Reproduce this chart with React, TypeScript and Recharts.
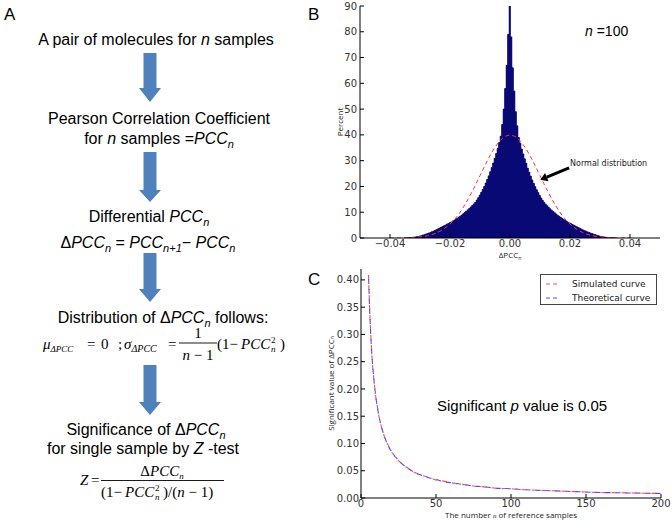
import React from 'react';
import {
  ComposedChart,
  LineChart,
  Bar,
  Line,
  XAxis,
  YAxis,
  Legend,
  ReferenceLine,
} from 'recharts';

// ---- panel B: histogram of delta PCC (n = 100) ----
const BIN_START = -0.035;
const BIN_WIDTH = 0.0005;
const histPercent = [
  0.03, 0.05, 0.08, 0.12, 0.16, 0.22, 0.3, 0.4, 0.5, 0.6,
  0.75, 0.9, 1.1, 1.3, 1.5, 1.7, 1.9, 2.1, 2.4, 2.6,
  2.9, 3.2, 3.5, 3.8, 4.1, 4.4, 4.7, 5.0, 5.3, 5.6,
  5.9, 6.2, 6.6, 6.9, 7.3, 7.7, 8.1, 8.5, 8.9, 9.4,
  9.9, 10.4, 10.9, 11.4, 12.0, 12.6, 13.2, 13.8, 14.7, 15.6,
  16.6, 17.7, 18.8, 20.0, 21.3, 22.7, 24.1, 25.7, 27.3, 29.1,
  30.9, 32.8, 34.8, 37.0, 39.5, 44, 50, 58, 67, 79,
  100,
  78, 66, 57, 49, 43.5, 39, 36.8, 34.5, 32.6, 30.7,
  29.0, 27.1, 25.5, 24.0, 22.5, 21.2, 19.9, 18.7, 17.6, 16.5,
  15.5, 14.6, 13.8, 13.1, 12.5, 11.9, 11.3, 10.8, 10.3, 9.8,
  9.3, 8.8, 8.4, 8.0, 7.6, 7.2, 6.8, 6.5, 6.1, 5.8,
  5.5, 5.2, 4.9, 4.6, 4.3, 4.0, 3.7, 3.4, 3.1, 2.85,
  2.6, 2.35, 2.1, 1.9, 1.7, 1.5, 1.3, 1.1, 0.9, 0.75,
  0.6, 0.5, 0.4, 0.3, 0.22, 0.16, 0.12, 0.08, 0.05, 0.03,
];

const normalX = [
  -0.04, -0.0375, -0.035, -0.0325, -0.03, -0.0275, -0.025, -0.0225, -0.02,
  -0.0175, -0.015, -0.0125, -0.01, -0.0075, -0.005, -0.0025, 0,
  0.0025, 0.005, 0.0075, 0.01, 0.0125, 0.015, 0.0175, 0.02,
  0.0225, 0.025, 0.0275, 0.03, 0.0325, 0.035, 0.0375, 0.04,
];
const normalPercent = [
  0.01, 0.04, 0.09, 0.2, 0.44, 0.9, 1.75, 3.2, 5.4,
  8.6, 13.0, 18.3, 24.2, 30.1, 35.2, 38.7, 39.9,
  38.7, 35.2, 30.1, 24.2, 18.3, 13.0, 8.6, 5.4,
  3.2, 1.75, 0.9, 0.44, 0.2, 0.09, 0.04, 0.01,
];

const histTicksX = [-0.04, -0.02, 0, 0.02, 0.04];
const histTicksY = [0, 10, 20, 30, 40, 50, 60, 70, 80, 90];

// ---- panel C: significant value vs number of reference samples ----
const sampleN = [
  5, 6, 7, 8, 9, 10, 11, 12, 13, 14, 15, 16, 17, 18, 19, 20, 22, 24, 26, 28, 30,
  35, 40, 45, 50, 55, 60, 65, 70, 75, 80, 90, 100, 110, 120, 130, 140, 150,
  160, 170, 180, 190, 200,
];
const simulatedValue = [
  0.409, 0.331, 0.275, 0.234, 0.207, 0.182, 0.166, 0.149, 0.138, 0.126, 0.118,
  0.109, 0.103, 0.097, 0.092, 0.086, 0.079, 0.071, 0.066, 0.061, 0.057,
  0.048, 0.042, 0.038, 0.033, 0.031, 0.028, 0.026, 0.024, 0.022, 0.021,
  0.018, 0.017, 0.015, 0.014, 0.013, 0.012, 0.011, 0.010, 0.0097, 0.0092,
  0.0087, 0.0083,
];
const theoreticalValue = [
  0.411, 0.329, 0.274, 0.235, 0.206, 0.183, 0.165, 0.150, 0.137, 0.127, 0.118,
  0.110, 0.103, 0.097, 0.091, 0.087, 0.078, 0.072, 0.066, 0.061, 0.057,
  0.048, 0.042, 0.037, 0.034, 0.030, 0.028, 0.026, 0.024, 0.022, 0.021,
  0.018, 0.017, 0.015, 0.014, 0.013, 0.012, 0.011, 0.010, 0.0097, 0.0092,
  0.0087, 0.0083,
];
const curveTicksX = [0, 50, 100, 150, 200];
const curveTicksY = [0, 0.05, 0.1, 0.15, 0.2, 0.25, 0.3, 0.35, 0.4];

const histData = histPercent.map((pct, i) => ({ x: BIN_START + i * BIN_WIDTH, pct }));
const normalData = normalX.map((x, i) => ({ x, normal: normalPercent[i] }));
const curveData = sampleN.map((n, i) => ({
  n,
  simulated: simulatedValue[i],
  theoretical: theoreticalValue[i],
}));

const TICK_FONT = { fontSize: 10, fontFamily: 'DejaVu Sans', fill: '#333' };
const SANS = 'Liberation Sans, Arial, sans-serif';
const SERIF = 'Liberation Serif, Times New Roman, serif';
const ARROW_BLUE = '#4F81BD';

const fmtHist = (v: number) => (v < 0 ? '\u2212' : '') + Math.abs(v).toFixed(2);
const fmtCurve = (v: number) => v.toFixed(2);
const blank = () => '';

const PercentTitle = ({ viewBox }: any) => {
  const cx = viewBox.x + 9;
  const cy = viewBox.y + viewBox.height / 2;
  return (
    <text x={cx} y={cy} transform={`rotate(-90 ${cx} ${cy})`} textAnchor="middle"
      dominantBaseline="central" fontSize={8} fontFamily="Open Sans" fill="#222">
      Percent
    </text>
  );
};

const DeltaTitle = ({ viewBox }: any) => (
  <text x={viewBox.x + viewBox.width / 2} y={viewBox.y + 20} textAnchor="middle"
    fontSize={8} fontFamily="Open Sans" fill="#222">
    ΔPCC<tspan fontSize={5} dy={1.5}>n</tspan>
  </text>
);

const SigTitle = ({ viewBox }: any) => {
  const cx = viewBox.x + 10;
  const cy = viewBox.y + viewBox.height / 2;
  return (
    <text x={cx} y={cy} transform={`rotate(-90 ${cx} ${cy})`} textAnchor="middle"
      dominantBaseline="central" fontSize={8} fontFamily="Open Sans" fill="#222">
      Significant value of ΔPCC<tspan fontSize={5} dy={2}>n</tspan>
    </text>
  );
};

const SamplesTitle = ({ viewBox }: any) => (
  <text x={viewBox.x + viewBox.width / 2} y={viewBox.y + 20} textAnchor="middle"
    fontSize={8} fontFamily="Open Sans" fill="#222">
    The number <tspan fontFamily={SERIF} fontStyle="italic" fontSize={7}>n</tspan> of reference samples
  </text>
);

const ArrowNote = (props: any) => {
  const { x1, y1, x2, y2 } = props;
  const dx = x2 - x1;
  const dy = y2 - y1;
  const len = Math.hypot(dx, dy) || 1;
  const ux = dx / len;
  const uy = dy / len;
  const head = 7;
  const half = 4.5;
  const bx = x2 - ux * head;
  const by = y2 - uy * head;
  return (
    <g>
      <line x1={x1} y1={y1} x2={bx} y2={by} stroke="#000" strokeWidth={3} />
      <polygon
        points={`${x2},${y2} ${bx - uy * half},${by + ux * half} ${bx + uy * half},${by - ux * half}`}
        fill="#000"
      />
      <text x={x1 + 1} y={y1 - 1.5} fontSize={8} fontFamily="DejaVu Sans" fill="#222">
        Normal distribution
      </text>
    </g>
  );
};

const CurveLegend = ({ payload }: any) => (
  <div style={{
    width: 117, height: 31, border: '1px solid #444', background: '#fff',
    boxSizing: 'border-box', position: 'relative',
  }}>
    {(payload || []).map((item: any, i: number) => (
      <div key={item.value} style={{
        position: 'absolute', left: 4, top: 2 + i * 14, height: 14,
        display: 'flex', alignItems: 'center', whiteSpace: 'nowrap',
      }}>
        <svg width={16} height={6}>
          <line x1={1} y1={3} x2={15} y2={3} stroke={item.color} strokeWidth={1} strokeDasharray="4 3" />
        </svg>
        <span style={{ marginLeft: 11, fontSize: 9, fontFamily: 'DejaVu Sans', color: '#222', lineHeight: '14px' }}>
          {item.value}
        </span>
      </div>
    ))}
  </div>
);

const arrowPath = (top: number, base: number, tip: number) =>
  `143.5,${top} 156.5,${top} 156.5,${base} 161,${base} 150,${tip} 139,${base} 143.5,${base}`;

const FLOW_ARROWS = [
  [53, 88, 102],
  [152, 190, 202],
  [253, 289, 302],
  [365, 402, 415],
];

const Sub = ({ children, up = 4 }: { children: React.ReactNode; up?: number }) => (
  <tspan fontSize={11} dy={up} fontStyle="italic">{children}</tspan>
);

const FlowPanel = () => (
  <svg width={672} height={522} style={{ position: 'absolute', left: 0, top: 0, pointerEvents: 'none' }}>
    <g fontFamily={SANS} fill="#000">
      <text x={4} y={20} fontSize={17}>A</text>
      <text x={308} y={20} fontSize={17}>B</text>
      <text x={308} y={285} fontSize={17}>C</text>
    </g>

    {FLOW_ARROWS.map(([t, b, p]) => (
      <polygon key={t} points={arrowPath(t, b, p)} fill={ARROW_BLUE} />
    ))}

    <g fontFamily={SANS} fontSize={16} fill="#000" textAnchor="middle">
      <text x={156} y={45}>
        A pair of molecules for <tspan fontStyle="italic">n</tspan> samples
      </text>
      <text x={159} y={124}>Pearson Correlation Coefficient</text>
      <text x={159} y={144}>
        for <tspan fontStyle="italic">n</tspan> samples =<tspan fontStyle="italic">PCC</tspan>
        <Sub>n</Sub>
      </text>
      <text x={149} y={222}>
        Differential <tspan fontStyle="italic">PCC</tspan>
        <Sub>n</Sub>
      </text>
      <text x={148} y={248}>
        Δ<tspan fontStyle="italic">PCC</tspan>
        <Sub>n</Sub>
        <tspan dy={-4}>{' = '}</tspan>
        <tspan fontStyle="italic">PCC</tspan>
        <Sub>n+1</Sub>
        <tspan dy={-4}>{'\u2212 '}</tspan>
        <tspan fontStyle="italic">PCC</tspan>
        <Sub>n</Sub>
      </text>
      <text x={163} y={323}>
        Distribution of Δ<tspan fontStyle="italic">PCC</tspan>
        <Sub>n</Sub>
        <tspan dy={-4}>{' follows:'}</tspan>
      </text>
      <text x={146} y={435}>
        Significance of Δ<tspan fontStyle="italic">PCC</tspan>
        <Sub>n</Sub>
      </text>
      <text x={143} y={454}>
        for single sample by <tspan fontStyle="italic">Z</tspan> -test
      </text>
    </g>

    {/* distribution formula */}
    <g fontFamily={SERIF} fontSize={15} fill="#000">
      <text x={43} y={349}>
        <tspan fontStyle="italic">μ</tspan>
        <tspan fontSize={9} fontStyle="italic" dy={3}>ΔPCC</tspan>
        <tspan x={87} dy={-3}>=</tspan>
        <tspan x={101}>0</tspan>
        <tspan x={118}>;</tspan>
        <tspan x={124} fontStyle="italic">σ</tspan>
        <tspan fontSize={10} fontStyle="italic" dy={3}>ΔPCC</tspan>
        <tspan x={168} dy={-3}>=</tspan>
      </text>
      <text x={198} y={338} textAnchor="middle">1</text>
      <line x1={179} x2={217} y1={343} y2={343} stroke="#000" strokeWidth={0.9} />
      <text x={198} y={360} textAnchor="middle">
        <tspan fontStyle="italic">n</tspan>{' \u2212 1'}
      </text>
      <text x={217} y={349}>
        (1{'\u2212'}
        <tspan x={241} fontStyle="italic">PCC</tspan>
        <tspan x={271} fontSize={9} dy={-6}>2</tspan>
        <tspan x={271} fontSize={9} fontStyle="italic" dy={9}>n</tspan>
        <tspan x={280} dy={-3}>)</tspan>
      </text>
    </g>

    {/* Z-test formula */}
    <g fontFamily={SERIF} fontSize={15} fill="#000">
      <text x={80} y={485}>
        <tspan fontStyle="italic">Z</tspan>
        <tspan x={91}>=</tspan>
      </text>
      <text x={162} y={476} textAnchor="middle">
        Δ<tspan fontStyle="italic">PCC</tspan>
        <tspan fontSize={9} fontStyle="italic" dy={3}>n</tspan>
      </text>
      <line x1={101} x2={224} y1={480.5} y2={480.5} stroke="#000" strokeWidth={0.9} />
      <text x={101} y={497}>
        (1{'\u2212'}
        <tspan x={125} fontStyle="italic">PCC</tspan>
        <tspan x={155} fontSize={9} dy={-6}>2</tspan>
        <tspan x={155} fontSize={9} fontStyle="italic" dy={9}>n</tspan>
        <tspan x={163} dy={-3}>)/(</tspan>
        <tspan fontStyle="italic">n</tspan>
        {' \u2212 1)'}
      </text>
    </g>

    <text x={585} y={36} fontFamily={SANS} fontSize={14} fill="#000">
      <tspan fontStyle="italic">n</tspan> =100
    </text>
    <text x={437} y={411} fontFamily={SANS} fontSize={15} fill="#000">
      Significant <tspan fontStyle="italic">p</tspan> value is 0.05
    </text>
  </svg>
);

const HistogramChart = () => (
  <ComposedChart width={352} height={260} data={histData} barCategoryGap={0} barGap={0}
    margin={{ top: 6, right: 12, bottom: 0, left: 10 }}>
    <XAxis dataKey="x" type="number" domain={[-0.05, 0.05]} ticks={histTicksX}
      tickFormatter={fmtHist} tick={TICK_FONT} tickSize={-4} tickMargin={6}
      height={22} stroke="#000" allowDataOverflow label={{ content: DeltaTitle }} />
    <XAxis xAxisId="top" orientation="top" type="number" domain={[-0.05, 0.05]}
      ticks={histTicksX} tickFormatter={blank} tickSize={-4} height={0} stroke="#000" />
    <YAxis type="number" domain={[0, 90]} ticks={histTicksY} allowDataOverflow
      tick={TICK_FONT} tickSize={-4} tickMargin={7} width={30} stroke="#000"
      label={{ content: PercentTitle }} />
    <YAxis yAxisId="right" orientation="right" type="number" domain={[0, 90]}
      ticks={histTicksY} tickFormatter={blank} tickSize={-4} width={0} stroke="#000" />
    <Bar dataKey="pct" fill="#00007a" stroke="#000070" strokeWidth={1}
      isAnimationActive={false} />
    <Line data={normalData} dataKey="normal" type="monotone" stroke="#ff3333"
      strokeWidth={1} strokeDasharray="4 3" dot={false} isAnimationActive={false} />
    <ReferenceLine segment={[{ x: 0.0197, y: 27.2 }, { x: 0.0101, y: 22.6 }]}
      shape={ArrowNote} />
  </ComposedChart>
);

const CurveChart = () => (
  <LineChart width={352} height={262} data={curveData}
    margin={{ top: 9, right: 11, bottom: 0, left: 0 }}>
    <XAxis dataKey="n" type="number" domain={[0, 200]} ticks={curveTicksX}
      tick={TICK_FONT} tickSize={-4} tickMargin={6} height={24} stroke="#000"
      label={{ content: SamplesTitle }} />
    <XAxis xAxisId="top" orientation="top" type="number" domain={[0, 200]}
      ticks={curveTicksX} tickFormatter={blank} tickSize={-4} height={0} stroke="#000" />
    <YAxis type="number" domain={[0, 0.42]} ticks={curveTicksY} tickFormatter={fmtCurve}
      tick={TICK_FONT} tickSize={-4} tickMargin={6} width={41} stroke="#000"
      label={{ content: SigTitle }} />
    <YAxis yAxisId="right" orientation="right" type="number" domain={[0, 0.42]}
      ticks={curveTicksY} tickFormatter={blank} tickSize={-4} width={0} stroke="#000" />
    <Line dataKey="simulated" name="Simulated curve" type="monotone" stroke="#ff4d4d"
      strokeWidth={1.1} strokeDasharray="5 5" dot={false} isAnimationActive={false} />
    <Line dataKey="theoretical" name="Theoretical curve" type="monotone" stroke="#4d4dff"
      strokeWidth={1.1} strokeDasharray="5 5" strokeDashoffset={5} dot={false}
      isAnimationActive={false} />
    <Legend layout="vertical" align="center" verticalAlign="middle" content={CurveLegend}
      wrapperStyle={{ left: 220, top: 14, width: 117 }} />
  </LineChart>
);

export default function App() {
  return (
    <div style={{ position: 'absolute', left: 0, top: 0, width: 672, height: 522, background: '#fff' }}>
      <div style={{ position: 'absolute', left: 320, top: 0 }}>
        <HistogramChart />
      </div>
      <div style={{ position: 'absolute', left: 320, top: 260 }}>
        <CurveChart />
      </div>
      <FlowPanel />
    </div>
  );
}
